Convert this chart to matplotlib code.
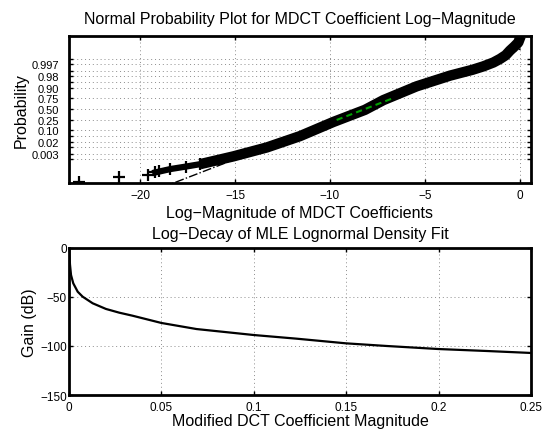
from statistics import NormalDist
import matplotlib
matplotlib.use('Agg')
import matplotlib.pyplot as plt
import numpy as np

plt.rcParams['font.family'] = ['Liberation Sans', 'DejaVu Sans']

# --- top panel: normal probability plot (x = log-magnitude, y = normal quantile) ---
outlier_x = [-23.2, -21.1, -19.6, -18.98]
outlier_z = [-4.49, -4.22, -4.05, -3.85]

tail_x = [-19.2, -18.4, -17.6, -16.84]
tail_z = [-3.91, -3.70, -3.55, -3.40]

band_x = [-16.84, -15.09, -13.33, -11.58, -9.83, -8.16, -7.19, -5.44,
          -3.68, -2.5, -1.93, -1.4, -1.05, -0.75, -0.53, -0.3, -0.09, 0.04]
band_z = [-3.40, -2.92, -2.37, -1.67, -0.80, -0.05, 0.55, 1.40,
          2.06, 2.42, 2.63, 2.87, 3.09, 3.32, 3.60, 3.85, 4.10, 4.50]

# quartiles of the data (x at p = 0.25 and 0.75)
quart_x = [-9.65, -6.67]
quart_p = [0.25, 0.75]

prob_levels = [0.001, 0.003, 0.01, 0.02, 0.05, 0.10, 0.25, 0.50,
               0.75, 0.90, 0.95, 0.98, 0.99, 0.997, 0.999]
prob_labels = ['', '0.003', '', '0.02', '', '0.10', '0.25', '0.50',
               '0.75', '0.90', '', '0.98', '', '0.997', '']

# --- bottom panel: log-decay of the fitted density ---
mag = [0.0001, 0.0003, 0.00054, 0.0011, 0.0023, 0.0047, 0.0074, 0.0128,
       0.02, 0.0272, 0.0344, 0.05, 0.069, 0.1, 0.123, 0.15, 0.172, 0.2,
       0.226, 0.25]
gain_db = [0, -9, -17, -27.6, -36, -44.6, -49.7, -56.4, -62.2, -66, -69.1,
           -76.5, -82.7, -88.8, -92.5, -97.3, -100, -103.1, -105.1, -107.1]

nd = NormalDist()
fig = plt.figure(figsize=(5.45, 4.31), dpi=100)
ax1 = fig.add_axes([0.1266, 0.5731, 0.8477, 0.3417])
ax2 = fig.add_axes([0.1266, 0.0812, 0.8477, 0.3411])

grid_kw = dict(color='#8c8c8c', linestyle=(0, (1, 3)), linewidth=0.7)

# reference line through the quartiles, extended over data range
qz = [nd.inv_cdf(p) for p in quart_p]
slope, icpt = np.polyfit(quart_x, qz, 1)
xr = np.array([min(outlier_x), max(band_x)])
ax1.plot(xr, slope * xr + icpt, color='k', linestyle='-.', linewidth=1, zorder=2)

ax1.plot(band_x, band_z, color='k', linewidth=7.5, solid_capstyle='butt',
         solid_joinstyle='round', zorder=3)
ax1.plot(tail_x, tail_z, color='k', linewidth=4.5, marker='+', markersize=8,
         markeredgewidth=1.6, zorder=3)
ax1.plot(outlier_x, outlier_z, linestyle='none', color='k', marker='+',
         markersize=8, markeredgewidth=1.6, zorder=3)
ax1.plot([band_x[-1]], [4.57], linestyle='none', color='k', marker='+',
         markersize=8, markeredgewidth=1.6, zorder=3)
ax1.plot(quart_x, qz, color='#00a000', linestyle=(0, (3, 2)), linewidth=1.5, zorder=4)

ax1.set_xlim(-23.74, 0.58)
ax1.set_ylim(-4.56, 4.52)
ax1.set_xticks([-20, -15, -10, -5, 0])
ax1.set_yticks([nd.inv_cdf(p) for p in prob_levels])
ax1.set_yticklabels(prob_labels)
for t in [-20, -15, -10, -5, 0]:
    ax1.axvline(t, zorder=1, **grid_kw)
for p in prob_levels:
    ax1.axhline(nd.inv_cdf(p), zorder=1, **grid_kw)
ax1.set_title('Normal Probability Plot for MDCT Coefficient Log\u2212Magnitude',
              fontsize=11.5, pad=9)
ax1.set_xlabel('Log\u2212Magnitude of MDCT Coefficients', fontsize=11.5, labelpad=3)
ax1.set_ylabel('Probability', fontsize=11.5, labelpad=2)

ax2.plot(mag, gain_db, color='k', linewidth=1.6, zorder=3)
ax2.set_xlim(0, 0.25)
ax2.set_ylim(-150, 0)
ax2.set_xticks([0, 0.05, 0.1, 0.15, 0.2, 0.25])
ax2.set_xticklabels(['0', '0.05', '0.1', '0.15', '0.2', '0.25'])
ax2.set_yticks([-150, -100, -50, 0])
for t in [0.05, 0.1, 0.15, 0.2]:
    ax2.axvline(t, zorder=1, **grid_kw)
for t in [-100, -50]:
    ax2.axhline(t, zorder=1, **grid_kw)
ax2.set_title('Log\u2212Decay of MLE Lognormal Density Fit', fontsize=11.5, pad=7)
ax2.set_xlabel('Modified DCT Coefficient Magnitude', fontsize=11.5, labelpad=0)
ax2.set_ylabel('Gain (dB)', fontsize=11.5, labelpad=2)

for ax in (ax1, ax2):
    for s in ax.spines.values():
        s.set_linewidth(2)
    ax.tick_params(direction='in', top=True, right=True, length=3, width=1,
                   labelsize=8.5)
    ax.tick_params(axis='x', pad=4)
ax1.tick_params(axis='y', pad=7, labelsize=8)
ax2.tick_params(axis='y', pad=1.5)

fig.savefig('out.png', dpi=100)
